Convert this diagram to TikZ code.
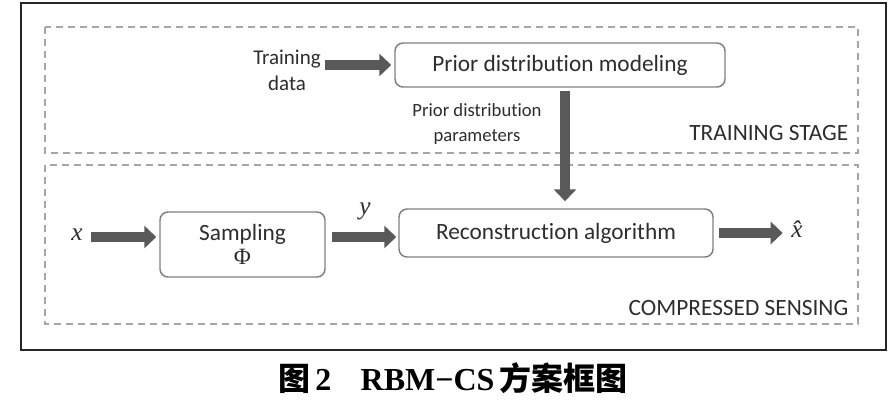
\documentclass[tikz,border=0pt]{standalone}
\usepackage{fontspec}
\setmainfont{Carlito}[Ligatures=NoCommon]
\newfontfamily\serifcap{Liberation Serif}
\newfontfamily\cjk{Noto Sans CJK SC}
\usetikzlibrary{arrows.meta}
\definecolor{arrowgray}{RGB}{89,89,89}
\definecolor{boxgray}{RGB}{127,127,127}
\definecolor{dashgray}{RGB}{166,166,166}
\definecolor{textgray}{RGB}{45,45,45}

\begin{document}
\begin{tikzpicture}[x=0.75pt,y=-0.75pt,
    block/.style={draw=boxgray,line width=1.1pt,rounded corners=6pt,align=center,text=textgray,font=\fontsize{17.5}{20}\selectfont},
    fat/.style={arrowgray,line width=7.5pt,-{Triangle[length=9pt,width=16.5pt]}},
    stage/.style={draw=dashgray,line width=1.1pt,dash pattern=on 5pt off 4pt},
    tag/.style={text=textgray,font=\fontsize{17.5}{21}\selectfont},
    mathlabel/.style={text=textgray,font=\fontsize{19}{21}\selectfont\serifcap\itshape}]
    \useasboundingbox (0,0) rectangle (889,401);
    \draw[line width=1.8pt,black!85] (21,3) rectangle (886,350);
    \draw[stage] (45,27) rectangle (858,153);
    \draw[stage] (45,165) rectangle (858,324);
    \node[tag,align=center,font=\fontsize{15.75}{19.5}\selectfont] (tdata) at (287,70) {Training\\data};
    \node[block,minimum width=247.5pt,minimum height=33pt] (prior) at (560,65) {Prior distribution modeling};
    \node[align=center,text=textgray,font=\fontsize{14}{18.75}\selectfont] (param) at (477,124) {Prior distribution\\parameters};
    \node[tag,anchor=east] (tstage) at (853,133) {TRAINING STAGE};
    \node[mathlabel] (xin) at (77,235) {x};
    \node[block,minimum width=123.75pt,minimum height=48.75pt] (samp) at (242.5,244.5) {Sampling\\[-2pt]{\serifcap Φ}};
    \node[mathlabel] (ylab) at (365,211) {y};
    \node[block,minimum width=235.5pt,minimum height=36pt] (recon) at (556,233) {Reconstruction algorithm};
    \node[mathlabel] (xout) at (797,229) {\^{x}};
    \node[tag,anchor=east] (cstage) at (853,308) {COMPRESSED SENSING};
    \node[text=black,font=\fontsize{24}{28}\selectfont\bfseries] (caption) at (453,378) {{\cjk 图}\,{\serifcap 2\enskip\, RBM−CS\,}{\cjk 方案框图}};
    \draw[fat,shorten >=2.25pt] (tdata.east |- prior.west) -- (prior.west);
    \draw[fat,shorten <=3pt,shorten >=2.25pt] (xin.east |- 0,237) -- (samp.west |- 0,237);
    \draw[fat,shorten <=4.5pt,shorten >=1.5pt] (samp.east |- 0,237) -- (recon.west |- 0,237);
    \draw[fat,shorten <=3.75pt,shorten >=3pt] (recon.east) -- (recon.east -| xout.west);
    \draw[fat,shorten <=2.25pt,shorten >=5.25pt] ([xshift=3.75pt]prior.south) -- ([xshift=3.75pt]prior.south |- recon.north);
\end{tikzpicture}
\end{document}
